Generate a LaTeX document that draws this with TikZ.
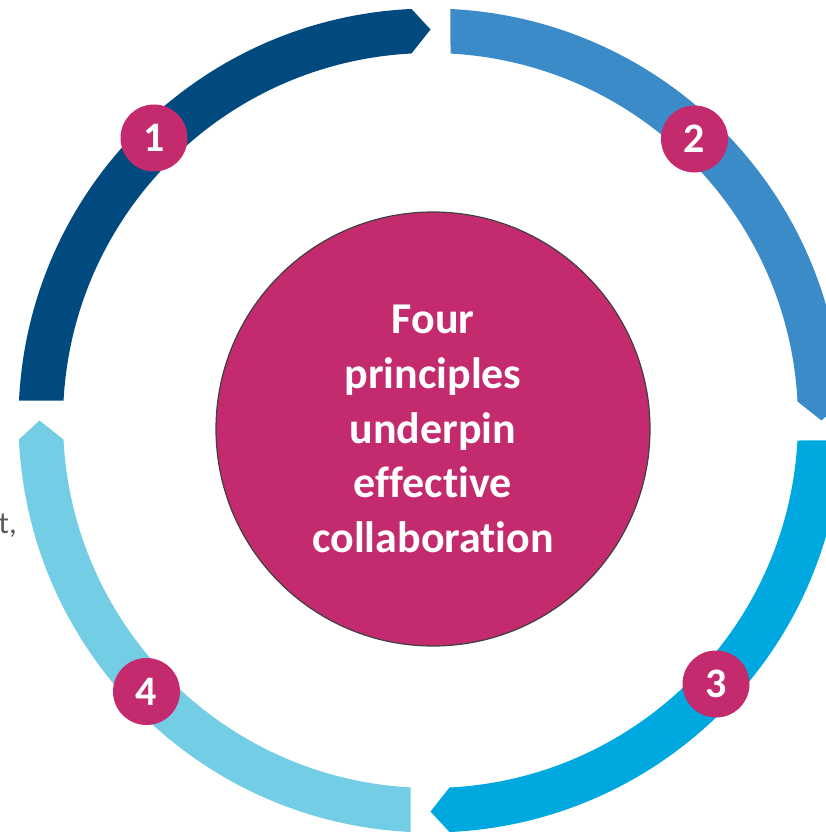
\documentclass[tikz,border=0pt]{standalone}
\usepackage{fontspec}
\setmainfont[Ligatures=NoCommon]{Carlito}
\definecolor{segA}{HTML}{004A7F}
\definecolor{segB}{HTML}{3A8BC7}
\definecolor{segC}{HTML}{00A8E0}
\definecolor{segD}{HTML}{73CDE4}
\definecolor{magenta}{HTML}{C42B6F}
\definecolor{rimgray}{HTML}{404040}
\definecolor{txtgray}{HTML}{595959}
\tikzset{
  badge/.style={circle, fill=magenta, minimum size=67pt, inner sep=0pt, text=white,
    font=\fontsize{42}{42}\selectfont\bfseries},
  hub/.style={circle, fill=magenta, draw=rimgray, line width=1.2pt, minimum size=434pt,
    inner sep=0pt, text=white, align=center,
    font=\fontsize{44}{54.7}\selectfont\bfseries},
  ringseg/.pic={
    \fill[#1] (177.22:412) arc[start angle=177.22, end angle=92.64, radius=412]
      -- (90:391) -- (92.97:367.5) arc[start angle=92.97, end angle=176.88, radius=367.5]
      -- cycle;
  }
}
\begin{document}
\begin{tikzpicture}[x=1pt,y=1pt]
\useasboundingbox (0,0) rectangle (826,-832);
\begin{scope}[shift={(430.5,-420.5)}]
  \pic[rotate=0] {ringseg=segA};
  \pic[rotate=-90] {ringseg=segB};
  \pic[rotate=-180] {ringseg=segC};
  \pic[rotate=-270] {ringseg=segD};
\end{scope}
\node[hub] (hub) at (433,-429) {Four\\principles\\underpin\\effective\\collaboration};
\node[badge] (b1) at (154,-138) {1};
\node[badge] (b2) at (694.5,-139) {2};
\node[badge] (b3) at (716,-684) {3};
\node[badge] (b4) at (146.5,-691.5) {4};
\node[anchor=base east, inner sep=0pt, text=txtgray, font=\fontsize{31}{31}\selectfont] (frag) at (17,-533) {t,};
\end{tikzpicture}
\end{document}
